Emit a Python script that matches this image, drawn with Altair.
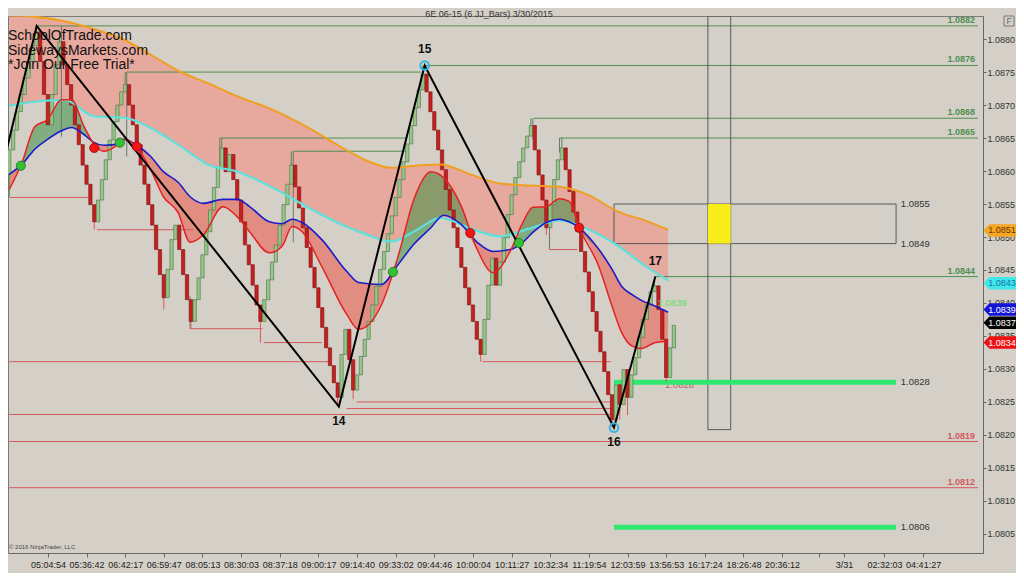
import altair as alt
import pandas as pd
import numpy as np

FONT = "Liberation Sans"

# ---------------- values ----------------
FIRST_OPEN = 1.08595
CLOSE = [
    1.08632, 1.08662, 1.08690, 1.08716, 1.08741, 1.08766, 1.08790, 1.08811, 1.08766, 1.08716,
    1.08670, 1.08716, 1.08761, 1.08796, 1.08761, 1.08731, 1.08700, 1.08670, 1.08640, 1.08609,
    1.08580, 1.08549, 1.08523, 1.08556, 1.08587, 1.08617, 1.08647, 1.08675, 1.08700, 1.08720,
    1.08731, 1.08700, 1.08670, 1.08640, 1.08609, 1.08580, 1.08549, 1.08518, 1.08481, 1.08443,
    1.08408, 1.08451, 1.08496, 1.08518, 1.08481, 1.08443, 1.08405, 1.08372, 1.08405, 1.08438,
    1.08473, 1.08508, 1.08541, 1.08575, 1.08605, 1.08635, 1.08599, 1.08625, 1.08587, 1.08556,
    1.08523, 1.08488, 1.08458, 1.08427, 1.08397, 1.08372, 1.08405, 1.08435, 1.08462, 1.08488,
    1.08518, 1.08549, 1.08580, 1.08609, 1.08576, 1.08544, 1.08514, 1.08484, 1.08454, 1.08423,
    1.08393, 1.08363, 1.08332, 1.08305, 1.08279, 1.08257, 1.08322, 1.08360, 1.08314, 1.08268,
    1.08291, 1.08319, 1.08345, 1.08372, 1.08397, 1.08425, 1.08451, 1.08478, 1.08505, 1.08532,
    1.08560, 1.08587, 1.08614, 1.08641, 1.08669, 1.08696, 1.08723, 1.08747, 1.08720, 1.08690,
    1.08662, 1.08632, 1.08602, 1.08572, 1.08541, 1.08514, 1.08484, 1.08454, 1.08423, 1.08397,
    1.08372, 1.08345, 1.08322, 1.08375, 1.08427, 1.08468, 1.08427, 1.08462, 1.08499, 1.08534,
    1.08564, 1.08590, 1.08614, 1.08635, 1.08653, 1.08669, 1.08632, 1.08594, 1.08556, 1.08514,
    1.08549, 1.08587, 1.08617, 1.08635, 1.08602, 1.08569, 1.08538, 1.08508, 1.08478, 1.08447,
    1.08417, 1.08387, 1.08357, 1.08326, 1.08296, 1.08261, 1.08223, 1.08276, 1.08246, 1.08299,
    1.08257, 1.08291, 1.08317, 1.08348, 1.08375, 1.08397, 1.08417, 1.08426, 1.08390, 1.08345,
    1.08287, 1.08332, 1.08366,
]
WICK_HI_BARS = [7, 13, 30, 55, 73, 107, 135, 143, 167]
WICK_HI = [1.08820, 1.08810, 1.08750, 1.08650, 1.08630, 1.08760, 1.08680, 1.08650, 1.08440]
WICK_LO_BARS = [0, 22, 40, 47, 65, 85, 89, 122, 139, 156, 158, 160, 170]
WICK_LO = [1.08560, 1.08511, 1.08390, 1.08361, 1.08340, 1.08243, 1.08254, 1.08311,
           1.08503, 1.08211, 1.08223, 1.08230, 1.08280]

# slow bands (orange / cyan)
BAND_BARS = [0, 6.6, 14.3, 22.0, 29.7, 37.3, 43.7, 51.4, 59.1, 68.1, 77.0, 86.0, 92.4, 98.8,
             105.2, 111.6, 119.3, 127.0, 134.7, 142.4, 150.1, 157.7, 164.1, 170.5]
ORANGE = [1.08836, 1.08834, 1.08827, 1.08815, 1.08799, 1.08774, 1.08752, 1.08733, 1.08713,
          1.08693, 1.08667, 1.08636, 1.08616, 1.08605, 1.08608, 1.08610, 1.08595, 1.08581,
          1.08578, 1.08576, 1.08563, 1.08538, 1.08526, 1.08511]
CYAN = [1.08699, 1.08705, 1.08708, 1.08683, 1.08681, 1.08663, 1.08640, 1.08610, 1.08599,
        1.08575, 1.08546, 1.08519, 1.08504, 1.08493, 1.08510, 1.08529, 1.08513, 1.08501,
        1.08513, 1.08525, 1.08511, 1.08486, 1.08458, 1.08434]

# fast averages (blue / red)
FAST_BARS = [0, 3.3, 6.6, 9.9, 13.5, 16.1, 19.4, 22.0, 24.5, 27.1, 29.7, 33.0, 36.6, 39.9, 43.7,
             46.8, 50.2, 55.3, 59.1, 62.2, 67.3, 70.6, 73.2, 75.8, 80.9, 87.3, 90.4, 96.3, 100.6,
             104.7, 109.1, 112.4, 116.8, 121.1, 125.2, 129.6, 132.9, 135.5, 139.0, 142.4, 144.9,
             147.5, 152.6, 156.0, 158.5, 161.1, 163.6, 167.2, 170.5]
BLUE = [1.08595, 1.08610, 1.08633, 1.08648, 1.08661, 1.08666, 1.08655, 1.08643, 1.08639, 1.08640,
        1.08648, 1.08639, 1.08622, 1.08599, 1.08583, 1.08561, 1.08551, 1.08557, 1.08557, 1.08546,
        1.08523, 1.08520, 1.08527, 1.08522, 1.08496, 1.08448, 1.08431, 1.08428, 1.08458, 1.08489,
        1.08514, 1.08533, 1.08520, 1.08492, 1.08478, 1.08481, 1.08492, 1.08507, 1.08522, 1.08527,
        1.08523, 1.08514, 1.08481, 1.08451, 1.08425, 1.08413, 1.08404, 1.08395, 1.08386]
RED = [1.08572, 1.08613, 1.08667, 1.08678, 1.08708, 1.08708, 1.08667, 1.08640, 1.08630, 1.08636,
       1.08648, 1.08636, 1.08602, 1.08561, 1.08537, 1.08492, 1.08503, 1.08546, 1.08530, 1.08508,
       1.08476, 1.08486, 1.08516, 1.08508, 1.08455, 1.08383, 1.08360, 1.08397, 1.08470, 1.08557,
       1.08599, 1.08590, 1.08549, 1.08481, 1.08446, 1.08478, 1.08522, 1.08545, 1.08546, 1.08558,
       1.08554, 1.08514, 1.08455, 1.08395, 1.08355, 1.08335, 1.08331, 1.08340, 1.08342]

# crossover dots
GDOT_BARS = [3.0, 28.6, 99.3, 131.9]
GDOT_PRICE = [1.08608, 1.08643, 1.08447, 1.08491]
RDOT_BARS = [22.0, 33.0, 119.3, 147.5]
RDOT_PRICE = [1.08635, 1.08637, 1.08506, 1.08514]

# zigzag
ZZ_BARS = [-1.1, 7.1, 85.3, 107.5, 156.5, 167.2]
ZZ_PRICE = [1.08622, 1.08820, 1.08243, 1.08760, 1.08211, 1.08440]
PIV_BARS = [85.3, 107.5, 156.5, 167.2]
PIV_PRICE = [1.08243, 1.08760, 1.08211, 1.08440]
PIV_LABEL = ["14", "15", "16", "17"]
PIV_BELOW = [True, False, True, False]

# swing level lines
LV_START = [7.4, 107.5, 30.4, 135.7, 142.4, 54.5, 73.5, 167.2,
            0.2, 22.7, 46.8, 66.0, 0.0, 122.4, 89.9, 87.3, 0.0, 0.0, 0.0, 139.8]
LV_END = [250.7, 250.7, 106.5, 250.7, 250.7, 102.7, 102.7, 250.7,
          20.7, 47.6, 65.5, 80.9, 82.7, 155.7, 155.7, 155.7, 155.7, 250.7, 250.7, 147.0]
LV_PRICE = [1.08820, 1.08760, 1.08750, 1.08680, 1.08650, 1.08650, 1.08630, 1.08440,
            1.08560, 1.08511, 1.08361, 1.08340, 1.08311, 1.08311, 1.08250, 1.08240, 1.08231,
            1.08190, 1.08120, 1.08481]
LV_KIND = ["high"] * 8 + ["low"] * 12

CONN_BARS = [13.5, 30.4, 54.5, 73.5, 46.8, 135.5, 142.4, 139.8]
CONN_TOP = [1.08820, 1.08750, 1.08650, 1.08630, 1.08410, 1.08680, 1.08650, 1.08516]
CONN_BOT = [1.08652, 1.08622, 1.08607, 1.08492, 1.08361, 1.08648, 1.08628, 1.08481]

LBL_PRICE = [1.0882, 1.0876, 1.0868, 1.0865, 1.0844, 1.0819, 1.0812]
LBL_KIND = ["high"] * 5 + ["low"] * 2

ZONE_X = [156.5, 229.5]
ZONE_PRICE = [1.0855, 1.0849]
YELLOW_X = [180.8, 186.7]
TALL_BOTTOM = 1.08208
THICK_PRICE = [1.0828, 1.0806]
SIDE_LBL_BAR = 230.7

TAG_PRICE = [1.0851, 1.0843, 1.0839, 1.0837, 1.0834]
TAG_FILL = ["#f5a623", "#3ee8e8", "#1414d8", "#000000", "#ee1111"]
TAG_TEXT = ["#6a3500", "#1a6fb0", "#ffffff", "#ffffff", "#ffffff"]

XT_VALUES = [10, 20, 30, 40, 50, 60, 70, 80, 90, 100, 110, 120, 130, 140, 150, 160, 170, 180,
             190, 200, 209.5, 216, 226.5, 236.5]
XT_LABELS = ["05:04:54", "05:36:42", "06:42:17", "06:59:47", "08:05:13", "08:30:03", "08:37:18",
             "09:00:17", "09:14:40", "09:33:02", "09:44:46", "10:00:04", "10:11:27", "10:32:34",
             "11:19:54", "12:03:59", "13:56:53", "16:17:24", "18:26:48", "20:36:12", "", "3/31",
             "02:32:03", "04:41:27"]
YT_VALUES = [1.0805, 1.0810, 1.0815, 1.0820, 1.0825, 1.0830, 1.0835, 1.0840, 1.0845, 1.0850,
             1.0855, 1.0860, 1.0865, 1.0870, 1.0875, 1.0880]

X_DOMAIN = [0.97, 250.7]
Y_DOMAIN = [1.08021, 1.08835]

# ---------------- tables ----------------
opens = [FIRST_OPEN] + CLOSE[:-1]
highs = [max(o, c) for o, c in zip(opens, CLOSE)]
lows = [min(o, c) for o, c in zip(opens, CLOSE)]
for b, v in zip(WICK_HI_BARS, WICK_HI):
    highs[b] = max(highs[b], v)
for b, v in zip(WICK_LO_BARS, WICK_LO):
    lows[b] = min(lows[b], v)
cdf = pd.DataFrame({"bar": list(range(len(CLOSE))), "open": opens, "close": CLOSE,
                    "high": highs, "low": lows})
cdf["dir"] = np.where(cdf["close"] >= cdf["open"], "up", "down")

bdf = pd.DataFrame({"bar": BAND_BARS, "orange": ORANGE, "cyan": CYAN})
fdf = pd.DataFrame({"bar": FAST_BARS, "blue": BLUE, "red": RED})
fdf["gtop"] = np.maximum(fdf["red"], fdf["blue"])
fdf["rbot"] = np.minimum(fdf["red"], fdf["blue"])

ldf = pd.DataFrame({"start": LV_START, "end": LV_END, "price": LV_PRICE, "kind": LV_KIND})
conn = pd.DataFrame({"bar": CONN_BARS, "top": CONN_TOP, "bot": CONN_BOT})
lbl = pd.DataFrame({"bar": [249.9] * len(LBL_PRICE), "price": LBL_PRICE, "kind": LBL_KIND,
                    "text": [f"{p:.4f}" for p in LBL_PRICE]})
zz = pd.DataFrame({"bar": ZZ_BARS, "price": ZZ_PRICE, "i": list(range(len(ZZ_BARS)))})
piv = pd.DataFrame({"bar": PIV_BARS, "price": PIV_PRICE, "label": PIV_LABEL, "below": PIV_BELOW})
zone = pd.DataFrame({"x1": [ZONE_X[0]], "x2": [ZONE_X[1]], "y1": [ZONE_PRICE[0]], "y2": [ZONE_PRICE[1]]})
yel = pd.DataFrame({"x1": [YELLOW_X[0]], "x2": [YELLOW_X[1]], "y1": [ZONE_PRICE[0]], "y2": [ZONE_PRICE[1]]})
tall = pd.DataFrame({"x1": [YELLOW_X[0]], "x2": [YELLOW_X[1]], "y1": [Y_DOMAIN[1]], "y2": [TALL_BOTTOM]})
thick = pd.DataFrame({"x1": [ZONE_X[0]] * 2, "x2": [ZONE_X[1]] * 2, "price": THICK_PRICE})
side = pd.DataFrame({"bar": [SIDE_LBL_BAR] * 4, "price": ZONE_PRICE + THICK_PRICE,
                     "text": [f"{p:.4f}" for p in ZONE_PRICE + THICK_PRICE]})
tags = pd.DataFrame({"price": TAG_PRICE, "fill": TAG_FILL, "tc": TAG_TEXT,
                     "text": [f"{p:.4f}" for p in TAG_PRICE]})

# ---------------- scales & axes ----------------
XS = alt.Scale(domain=X_DOMAIN, nice=False, zero=False)
YS = alt.Scale(domain=Y_DOMAIN, nice=False, zero=False)
label_expr = " : ".join(f"datum.value == {v} ? '{t}'" for v, t in zip(XT_VALUES, XT_LABELS)) + " : ''"
XA = alt.Axis(values=XT_VALUES, labelExpr=label_expr, grid=False, title=None, tickSize=4,
              labelFontSize=9, labelColor="#222", domainColor="#666", tickColor="#666",
              labelFont=FONT, labelPadding=3, labelOverlap=False, labelFlush=False)
YA = alt.Axis(orient="right", values=YT_VALUES, format=".4f", grid=False, title=None, tickSize=3,
              labelFontSize=9, labelColor="#333", domainColor="#666", tickColor="#666",
              labelFont=FONT, labelPadding=1, labelOverlap=False, labelFlush=False)


def X(f="bar"):
    return alt.X(f"{f}:Q", scale=XS, axis=XA)


def Y(f):
    return alt.Y(f"{f}:Q", scale=YS, axis=YA)


layers = []

# salmon band between orange and cyan
layers.append(alt.Chart(bdf).mark_area(color="#fa8072", opacity=0.5, interpolate="monotone", clip=True)
              .encode(x=X(), y=Y("orange"), y2="cyan:Q"))
# green / red fill between red and blue averages
layers.append(alt.Chart(fdf).mark_area(color="#2e8b3a", opacity=0.5, interpolate="monotone", clip=True)
              .encode(x=X(), y=Y("gtop"), y2="blue:Q"))
layers.append(alt.Chart(fdf).mark_area(color="#f04a3a", opacity=0.5, interpolate="monotone", clip=True)
              .encode(x=X(), y=Y("blue"), y2="rbot:Q"))

# swing level lines
layers.append(alt.Chart(ldf).mark_rule(strokeWidth=1, clip=True).encode(
    x=X("start"), x2="end:Q", y=Y("price"),
    color=alt.Color("kind:N", scale=alt.Scale(domain=["high", "low"], range=["#4f8f4f", "#d65a5a"]), legend=None)))
layers.append(alt.Chart(conn).mark_rule(strokeWidth=1, color="#6b786b", clip=True).encode(
    x=X(), y=Y("top"), y2="bot:Q"))

# zone boxes
layers.append(alt.Chart(tall).mark_rect(fillOpacity=0, stroke="#5a5a5a", strokeWidth=1, clip=True).encode(
    x=X("x1"), x2="x2:Q", y=Y("y1"), y2="y2:Q"))
layers.append(alt.Chart(zone).mark_rect(fillOpacity=0, stroke="#5a5a5a", strokeWidth=1, clip=True).encode(
    x=X("x1"), x2="x2:Q", y=Y("y1"), y2="y2:Q"))
layers.append(alt.Chart(yel).mark_rect(color="#f8ec1a", clip=True).encode(
    x=X("x1"), x2="x2:Q", y=Y("y1"), y2="y2:Q"))

# small price notes near last bars
layers.append(alt.Chart(pd.DataFrame({"bar": [169.7], "price": [1.0828], "t": ["1.0828"]}))
              .mark_text(align="left", baseline="middle", dy=3, fontSize=9.5, font=FONT, color="#c06060")
              .encode(x=X(), y=Y("price"), text="t:N"))

# thick green levels
layers.append(alt.Chart(thick).mark_rule(strokeWidth=5, color="#2ee870", clip=True).encode(
    x=X("x1"), x2="x2:Q", y=Y("price")))

# candles
col_scale = alt.Scale(domain=["up", "down"], range=["#96c785", "#c61f1f"])
str_scale = alt.Scale(domain=["up", "down"], range=["#4c6f4c", "#7a1010"])
layers.append(alt.Chart(cdf).mark_rule(strokeWidth=1, clip=True).encode(
    x=X(), y=Y("low"), y2="high:Q",
    color=alt.Color("dir:N", scale=str_scale, legend=None)))
layers.append(alt.Chart(cdf).mark_bar(size=3.3, strokeWidth=0.6, clip=True).encode(
    x=X(), y=Y("open"), y2="close:Q",
    fill=alt.Fill("dir:N", scale=col_scale, legend=None),
    stroke=alt.Stroke("dir:N", scale=str_scale, legend=None)))

# moving averages
layers.append(alt.Chart(bdf).mark_line(color="#f0a020", strokeWidth=2, interpolate="monotone", clip=True)
              .encode(x=X(), y=Y("orange")))
layers.append(alt.Chart(bdf).mark_line(color="#5fe0dc", strokeWidth=2.2, interpolate="monotone", clip=True)
              .encode(x=X(), y=Y("cyan")))
layers.append(alt.Chart(fdf).mark_line(color="#1c1cc8", strokeWidth=1.6, interpolate="monotone", clip=True)
              .encode(x=X(), y=Y("blue")))
layers.append(alt.Chart(fdf).mark_line(color="#e52222", strokeWidth=1.5, interpolate="monotone", clip=True)
              .encode(x=X(), y=Y("red")))

# zigzag
layers.append(alt.Chart(zz).mark_line(color="#000000", strokeWidth=2, clip=True).encode(
    x=X(), y=Y("price"), order="i:Q"))

# dots
layers.append(alt.Chart(pd.DataFrame({"bar": GDOT_BARS, "price": GDOT_PRICE}))
              .mark_circle(size=85, color="#34c234", stroke="#1d6e1d", strokeWidth=0.8, opacity=1)
              .encode(x=X(), y=Y("price")))
layers.append(alt.Chart(pd.DataFrame({"bar": RDOT_BARS, "price": RDOT_PRICE}))
              .mark_circle(size=85, color="#f01414", stroke="#9a0a0a", strokeWidth=0.8, opacity=1)
              .encode(x=X(), y=Y("price")))
layers.append(alt.Chart(piv[piv["label"].isin(["15", "16"])])
              .mark_point(shape="circle", filled=False, size=75, strokeWidth=2, color="#38b4e4", opacity=1)
              .encode(x=X(), y=Y("price")))

# pivot labels
layers.append(alt.Chart(piv[piv["below"]]).mark_text(dy=14, fontSize=12, fontWeight="bold", font=FONT, color="#111")
              .encode(x=X(), y=Y("price"), text="label:N"))
layers.append(alt.Chart(piv[~piv["below"]]).mark_text(dy=-16, fontSize=12, fontWeight="bold", font=FONT, color="#111")
              .encode(x=X(), y=Y("price"), text="label:N"))

# level labels
layers.append(alt.Chart(lbl).mark_text(align="right", baseline="middle", dy=-6, fontSize=9,
                                       fontWeight="bold", font=FONT).encode(
    x=X(), y=Y("price"), text="text:N",
    color=alt.Color("kind:N", scale=alt.Scale(domain=["high", "low"], range=["#2f8a2f", "#dd3333"]), legend=None)))
layers.append(alt.Chart(side).mark_text(align="left", baseline="middle", fontSize=9.5, font=FONT, color="#333")
              .encode(x=X(), y=Y("price"), text="text:N"))
layers.append(alt.Chart(pd.DataFrame({"bar": [167.8], "price": [1.0839], "t": ["1.0839"]}))
              .mark_text(align="left", baseline="middle", dy=-7, fontSize=9.5, font=FONT, color="#5fe05f")
              .encode(x=X(), y=Y("price"), text="t:N"))

# price flags on the right axis
FLAG = "M -1 0 L -0.64 -0.38 L 1 -0.38 L 1 0.38 L -0.64 0.38 Z"
layers.append(alt.Chart(tags).mark_point(shape=FLAG, size=1089, filled=True, opacity=1, strokeWidth=0)
              .encode(x=alt.value(992), y=Y("price"), fill=alt.Fill("fill:N", scale=None)))
layers.append(alt.Chart(tags).mark_text(align="center", baseline="middle", fontSize=9, font=FONT, dx=2)
              .encode(x=alt.value(992), y=Y("price"), text="text:N", color=alt.Color("tc:N", scale=None)))

# header texts
def txt(s, x, y, size, color="#111", align="left", weight="normal"):
    return alt.Chart(pd.DataFrame({"t": [s]})).mark_text(
        align=align, baseline="middle", fontSize=size, font=FONT, color=color, fontWeight=weight
    ).encode(x=alt.value(x), y=alt.value(y), text="t:N")


layers.append(txt("SchoolOfTrade.com", 0, 20, 14))
layers.append(txt("SidewaysMarkets.com", 0, 35, 14))
layers.append(txt("*Join Our Free Trial*", 0, 49, 14))
layers.append(txt("6E 06-15 (6 JJ_Bars)  3/30/2015", 481, -2, 9, "#333", "center"))
layers.append(txt("© 2016 NinjaTrader, LLC", 1, 531, 6, "#444"))
layers.append(alt.Chart(pd.DataFrame({"t": ["F"]})).mark_point(shape="square", size=100, filled=False,
                                                             color="#777", strokeWidth=1, opacity=1)
              .encode(x=alt.value(1001), y=alt.value(5)))
layers.append(txt("F", 1001, 5, 8.5, "#666", "center"))

chart = alt.layer(*layers).properties(
    width=975, height=537,
    autosize=alt.AutoSizeParams(type="none"),
    padding={"left": 0, "top": 8, "right": 33, "bottom": 20},
    background="#d4d0c8",
).configure_view(stroke="#7a7a7a", strokeWidth=1)

chart.save("out.html", embed_options={"renderer": "svg", "actions": False})
